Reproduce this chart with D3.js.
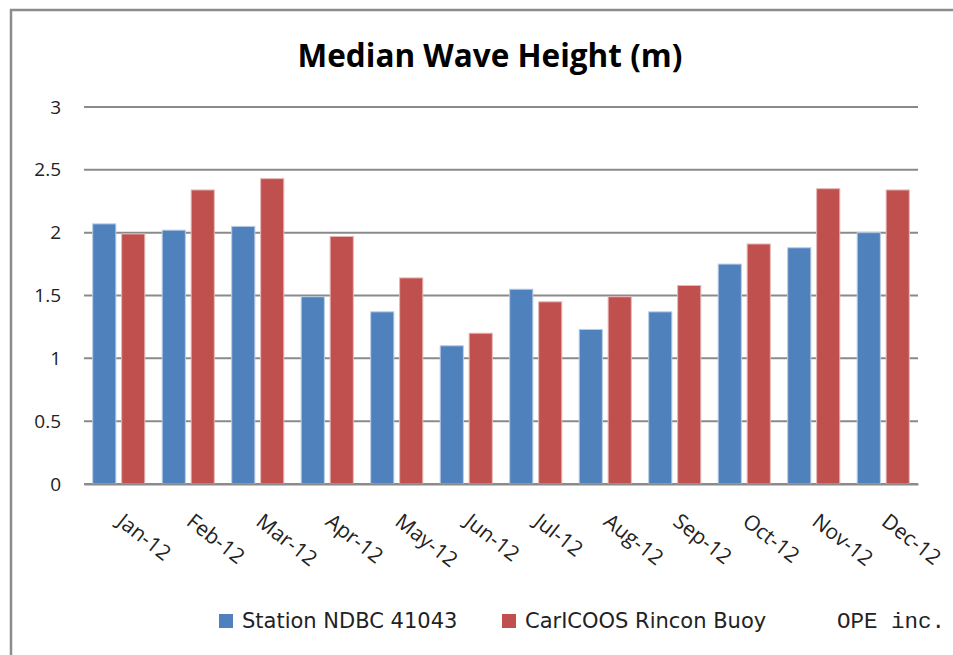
<!DOCTYPE html>
<html>
<head>
<meta charset="utf-8">
<script src="https://cdn.jsdelivr.net/npm/d3@7"></script>
<style>
  body { margin: 0; background: #fff; }
  svg { display: block; }
</style>
</head>
<body>
<div id="chart"></div>
<script>

const months = ["Jan-12","Feb-12","Mar-12","Apr-12","May-12","Jun-12","Jul-12","Aug-12","Sep-12","Oct-12","Nov-12","Dec-12"];
const seriesNames = ["Station NDBC 41043", "CarICOOS Rincon Buoy"];
const ndbc = [2.07, 2.02, 2.05, 1.49, 1.37, 1.10, 1.55, 1.23, 1.37, 1.75, 1.88, 2.00];
const rincon = [1.99, 2.34, 2.43, 1.97, 1.64, 1.20, 1.45, 1.49, 1.58, 1.91, 2.35, 2.34];
const yTicks = [0, 0.5, 1, 1.5, 2, 2.5, 3];
const colors = ["#4f81bd", "#c0504d"];

const W = 953, H = 655;
const margin = { top: 107, right: 35, bottom: 171, left: 84 };
const width = W - margin.left - margin.right;
const height = H - margin.top - margin.bottom;

const data = months.map((m, i) => ({ m, vals: [ndbc[i], rincon[i]] }));

const svg = d3.select("#chart").append("svg")
    .attr("width", W)
    .attr("height", H);

// outer frame (only left and top edges show)
svg.append("path")
    .attr("d", `M11,${H} L11,10 L${W},10`)
    .attr("fill", "none")
    .attr("stroke", "#8c8c8c")
    .attr("stroke-width", 2.5);

svg.append("text")
    .attr("x", 490)
    .attr("y", 67)
    .attr("text-anchor", "middle")
    .style("font-family", "'Open Sans', sans-serif")
    .style("font-weight", "bold")
    .style("font-size", "31.5px")
    .attr("fill", "#000")
    .text("Median Wave Height (m)");

const g = svg.append("g")
    .attr("transform", `translate(${margin.left},${margin.top})`);

const x0 = d3.scaleBand()
    .domain(months)
    .range([0, width])
    .paddingInner(0.25)
    .paddingOuter(0.125);

const x1 = d3.scaleBand()
    .domain([0, 1])
    .range([0, x0.bandwidth()])
    .paddingInner(0.2);

const y = d3.scaleLinear()
    .domain([0, 3])
    .range([height, 0]);

// gridlines
g.selectAll(".grid")
    .data(yTicks)
    .enter()
    .append("line")
    .attr("class", "grid")
    .attr("x1", 0)
    .attr("x2", width)
    .attr("y1", d => y(d))
    .attr("y2", d => y(d))
    .attr("stroke", "#8a8a8a")
    .attr("stroke-width", 2);

// y axis labels
g.append("g")
    .call(d3.axisLeft(y).tickValues(yTicks).tickFormat(d => d).tickSize(0).tickPadding(23))
    .call(a => a.select(".domain").remove())
    .call(a => a.selectAll("text")
        .style("font-family", "'Open Sans', sans-serif")
        .style("font-size", "19px")
        .attr("fill", "#222"));

// bars
const groups = g.selectAll(".month")
    .data(data)
    .enter()
    .append("g")
    .attr("transform", d => `translate(${x0(d.m)},0)`);

groups.selectAll("rect")
    .data(d => d.vals.map((v, k) => ({ v, k })))
    .enter()
    .append("rect")
    .attr("x", d => x1(d.k))
    .attr("width", x1.bandwidth())
    .attr("y", d => y(d.v))
    .attr("height", d => height - y(d.v))
    .attr("fill", d => colors[d.k])
    .attr("stroke", d => d.k === 0 ? "#b9cde5" : "#e6b9b8")
    .attr("stroke-width", 1);

// x axis
const xa = g.append("g")
    .attr("transform", `translate(0,${height})`)
    .call(d3.axisBottom(x0).tickSize(0).tickFormat(""));
xa.select(".domain").attr("stroke", "#8a8a8a").attr("stroke-width", 2);

g.selectAll(".xlabel")
    .data(months)
    .enter()
    .append("text")
    .attr("class", "xlabel")
    .attr("transform", d => `translate(${x0(d) + x0.bandwidth() / 2 - 3},${height + 40}) rotate(38)`)
    .style("font-family", "'Open Sans', sans-serif")
    .style("font-size", "21px")
    .attr("fill", "#222")
    .text(d => d);

// legend
const legend = svg.append("g");
const legX = [219, 502];
seriesNames.forEach((name, k) => {
    legend.append("rect")
        .attr("x", legX[k])
        .attr("y", 614)
        .attr("width", 14)
        .attr("height", 14)
        .attr("fill", colors[k]);
    legend.append("text")
        .attr("x", legX[k] + 23)
        .attr("y", 628)
        .style("font-family", "'DejaVu Sans', sans-serif")
        .style("font-size", "21px")
        .attr("fill", "#222")
        .text(name);
});

svg.append("text")
    .attr("x", 837)
    .attr("y", 628)
    .style("font-family", "'Liberation Mono', monospace")
    .style("font-size", "22.5px")
    .attr("fill", "#222")
    .text("OPE inc.");

</script>
</body>
</html>
